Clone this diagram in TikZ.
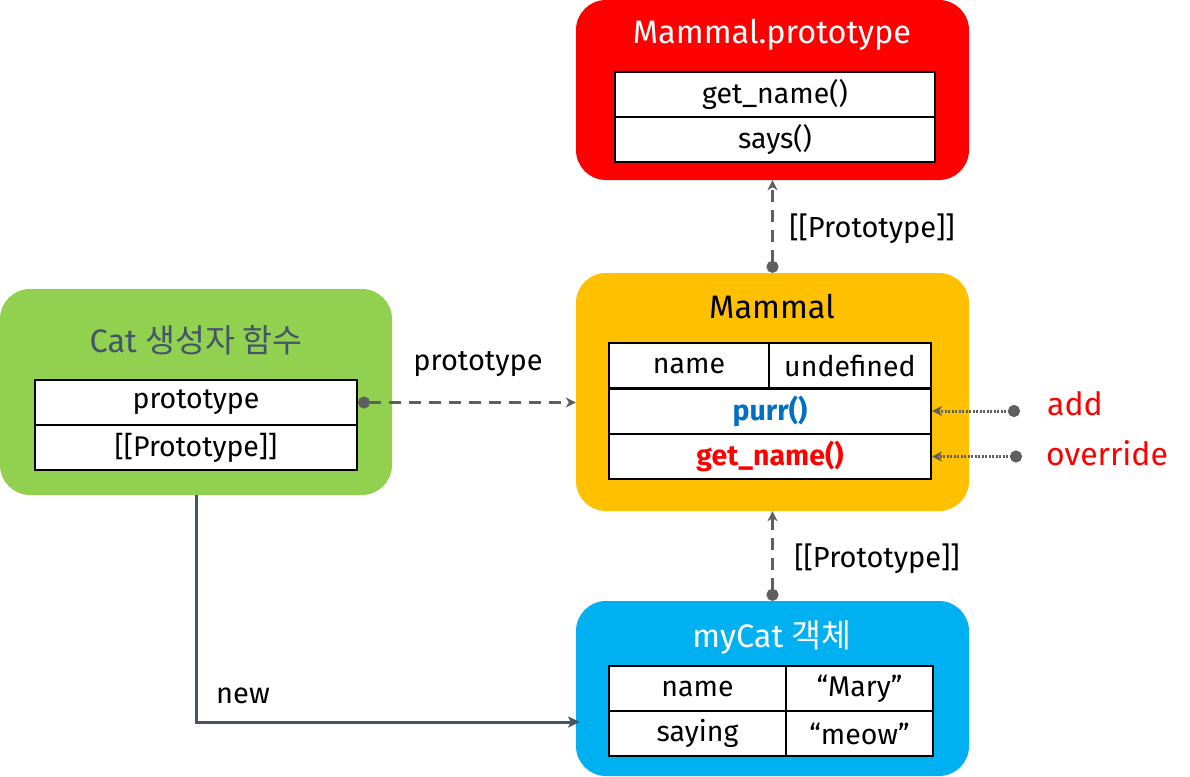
\documentclass[tikz,border=0pt]{standalone}
\usepackage{fontspec}
\setmainfont{Fira Sans}
\newfontfamily\kr{Noto Sans CJK KR}
\usepackage{xcolor}
\usetikzlibrary{arrows.meta,positioning}
\definecolor{mred}{HTML}{FF0000}
\definecolor{morange}{HTML}{FFC000}
\definecolor{mgreen}{HTML}{92D050}
\definecolor{mblue}{HTML}{00B0F0}
\definecolor{linkgray}{HTML}{5F5F5F}
\definecolor{newgray}{HTML}{44546A}
\definecolor{purrblue}{HTML}{0070C0}
\tikzset{
	box/.style={rounded corners=30pt, minimum width=393pt, inner sep=0pt},
	cell/.style={draw, line width=2pt, fill=white, minimum height=45pt, inner sep=0pt, font=\fontsize{28.5}{32}\selectfont},
	title/.style={font=\fontsize{32.5}{38}\selectfont},
	lbl/.style={font=\fontsize{29}{34}\selectfont},
	link/.style={draw=linkgray, line width=3pt, dash pattern=on 12pt off 8pt, {Circle[length=12pt]}-{Stealth[length=10pt,width=10pt,inset=3pt]}},
	hint/.style={draw=linkgray, line width=3pt, dash pattern=on 2pt off 1.5pt, {Circle[length=12pt]}-{Stealth[length=10pt,width=10pt,inset=3pt]}}
}
\begin{document}
\begin{tikzpicture}[x=1pt, y=-1pt]
	\useasboundingbox (0,0) rectangle (1190,776);
	% boxes
	\node[box, fill=mred, minimum height=180pt] (mproto) at (772.5,90) {};
	\node[box, fill=morange, minimum height=238pt] (mammal) at (772.5,392) {};
	\node[box, fill=mgreen, minimum width=392pt, minimum height=206pt] (catFn) at (196,392) {};
	\node[box, fill=mblue, minimum height=175pt] (myCat) at (772.5,688.5) {};
	\node[title, text=white] (mprotoTitle) at (772,35) {Mammal.prototype};
	\node[title] (mammalTitle) at (772,307) {Mammal};
	\node[title, text=newgray] (catTitle) at (196,340) {Cat {\kr 생성자 함수}};
	\node[title, text=white] (myCatTitle) at (772,638) {myCat {\kr 객체}};
	% cells
	\node[cell, minimum width=320pt] (mprotoGet) at (775,94.5) {get\_name()};
	\node[cell, minimum width=320pt] (mprotoSays) at (775,139.5) {says()};
	\node[cell, minimum width=160pt] (mName) at (689,365.5) {name};
	\node[cell, minimum width=162pt] (mUndef) at (850,365.5) {undefined};
	\node[cell, minimum width=322pt, text=purrblue] (mPurr) at (770,411) {\bfseries purr()};
	\node[cell, minimum width=322pt, text=mred] (mGet) at (770,456.5) {\bfseries get\_name()};
	\node[cell, minimum width=322pt] (catProto) at (196,402.5) {prototype};
	\node[cell, minimum width=322pt] (catLink) at (196,447.5) {[[Prototype]]};
	\node[cell, minimum width=177pt] (cName) at (697.5,688.5) {name};
	\node[cell, minimum width=147pt] (cMary) at (859.5,688.5) {“Mary”};
	\node[cell, minimum width=177pt] (cSaying) at (697.5,733.5) {saying};
	\node[cell, minimum width=147pt] (cMeow) at (859.5,733.5) {“meow”};
	% links
	\draw[link] (catProto.east) -- (catProto.east -| mammal.west);
	\node[lbl] (protoLbl) at (478,364) {prototype};
	\draw[link] (mammal.north) -- (mproto.south);
	\node[lbl] (upLbl) at (872,229) {[[Prototype]]};
	\draw[link] (myCat.north) -- (mammal.south);
	\node[lbl] (downLbl) at (877,559) {[[Prototype]]};
	\coordinate (newIn) at (580,722);
	\draw[newgray, line width=3pt, -{Stealth[length=12pt,width=11pt,inset=3pt]}] (catFn.south) |- (newIn);
	\node[lbl] (newLbl) at (243,696) {new};
	\coordinate (addDot) at (1020,411);
	\coordinate (overDot) at (1022,456.5);
	\draw[hint] (addDot) -- (mPurr.east);
	\draw[hint] (overDot) -- (mGet.east);
	\node[lbl, text=mred, font=\fontsize{32}{38}\selectfont] (addLbl) at (1075,404) {add};
	\node[lbl, text=mred, font=\fontsize{32}{38}\selectfont] (overLbl) at (1107,453) {override};
\end{tikzpicture}
\end{document}
